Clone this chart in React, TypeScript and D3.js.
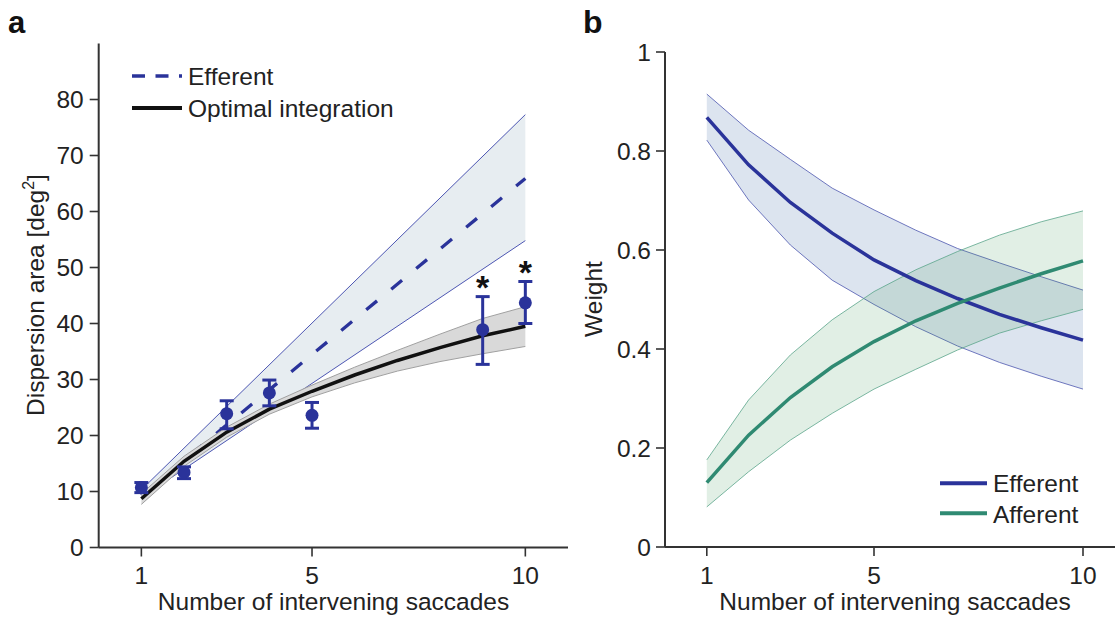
import React from "react";
import * as d3 from "d3";

// ---------- Panel a data ----------
const saccadesA = [1, 2, 3, 4, 5, 6, 7, 8, 9, 10];
const optimalMean = [8.7, 15.4, 20.6, 24.7, 27.9, 30.8, 33.4, 35.7, 37.8, 39.5];
const optimalUpper = [9.6, 16.3, 21.5, 25.6, 29.0, 32.2, 35.2, 38.1, 40.9, 43.0];
const optimalLower = [7.7, 14.5, 19.7, 23.8, 26.9, 29.4, 31.5, 33.2, 34.6, 35.9];

const efferentX = [1, 10];
const efferentMean = [9.3, 65.9];
const efferentUpper = [10.3, 77.3];
const efferentLower = [8.9, 54.8];

const obsX = [1, 2, 3, 4, 5, 9, 10];
const obsMean = [10.7, 13.4, 23.9, 27.6, 23.6, 38.9, 43.7];
const obsLow = [9.8, 12.3, 21.2, 25.3, 21.3, 32.7, 40.0];
const obsHigh = [11.6, 14.4, 26.2, 29.9, 25.9, 44.8, 47.5];
const obsStar = [false, false, false, false, false, true, true];

const yTicksA = [0, 10, 20, 30, 40, 50, 60, 70, 80];
const xTicks = [1, 5, 10];

// ---------- Panel b data ----------
const saccadesB = [1, 2, 3, 4, 5, 6, 7, 8, 9, 10];
const effWeight = [0.868, 0.772, 0.696, 0.634, 0.58, 0.538, 0.502, 0.47, 0.443, 0.418];
const effWeightUp = [0.915, 0.842, 0.783, 0.725, 0.681, 0.64, 0.603, 0.574, 0.546, 0.519];
const effWeightLo = [0.822, 0.701, 0.61, 0.539, 0.49, 0.445, 0.406, 0.373, 0.345, 0.319];
const affWeight = [0.13, 0.226, 0.302, 0.364, 0.415, 0.457, 0.492, 0.523, 0.552, 0.578];
const affWeightUp = [0.176, 0.297, 0.388, 0.459, 0.516, 0.56, 0.597, 0.63, 0.657, 0.679];
const affWeightLo = [0.081, 0.152, 0.216, 0.27, 0.319, 0.359, 0.398, 0.432, 0.457, 0.48];

const yTicksB = [0, 0.2, 0.4, 0.6, 0.8, 1];
const yTickLabelsB = ["0", "0.2", "0.4", "0.6", "0.8", "1"];

const FONT = "'Liberation Sans', Arial, Helvetica, sans-serif";
const BLUE = "#2a339a";
const GREEN = "#2f8a72";
const AXIS = "#333";
const FS = 24.5;

export default function App() {
  // scales panel a
  const xA = d3.scaleLinear().domain([0, 11]).range([98.7, 568]);
  const yA = d3.scaleLinear().domain([0, 90]).range([547.5, 43.5]);
  // scales panel b
  const xB = d3.scaleLinear().domain([0, 11]).range([665, 1124.8]);
  const yB = d3.scaleLinear().domain([0, 1]).range([547, 52]);

  const lineA = (xs: number[], ys: number[]) =>
    d3.line<number>().x((_, i) => xA(xs[i])).y((d) => yA(d))(ys) || "";
  const areaA = (xs: number[], lo: number[], hi: number[]) =>
    d3
      .area<number>()
      .x((_, i) => xA(xs[i]))
      .y0((_, i) => yA(lo[i]))
      .y1((d) => yA(d))(hi) || "";
  const lineB = (xs: number[], ys: number[]) =>
    d3.line<number>().x((_, i) => xB(xs[i])).y((d) => yB(d))(ys) || "";
  const areaB = (xs: number[], lo: number[], hi: number[]) =>
    d3
      .area<number>()
      .x((_, i) => xB(xs[i]))
      .y0((_, i) => yB(lo[i]))
      .y1((d) => yB(d))(hi) || "";

  const tick = 9;

  return (
    <svg
      width={1115}
      height={617}
      style={{ position: "absolute", left: 0, top: 0, background: "#fff" }}
      fontFamily={FONT}
    >
      <rect width={1115} height={617} fill="#fff" />
      {/* ================= Panel a ================= */}
      <text x={8} y={33} fontSize={31} fontWeight="bold" fill="#111">a</text>

      {/* efferent band */}
      <path d={areaA(efferentX, efferentLower, efferentUpper)} fill="#e7edf1" stroke="none" />
      <path d={lineA(efferentX, efferentUpper)} fill="none" stroke="#3a44aa" strokeWidth={0.9} />
      <path d={lineA(efferentX, efferentLower)} fill="none" stroke="#3a44aa" strokeWidth={0.9} />
      {/* efferent dashed mean */}
      <path
        d={lineA(efferentX, efferentMean)}
        fill="none"
        stroke={BLUE}
        strokeWidth={3.3}
        strokeDasharray="14 18.4"
      />
      {/* optimal band */}
      <path d={areaA(saccadesA, optimalLower, optimalUpper)} fill="#d9d9d9" stroke="none" />
      <path d={lineA(saccadesA, optimalUpper)} fill="none" stroke="#a0a0a0" strokeWidth={1} />
      <path d={lineA(saccadesA, optimalLower)} fill="none" stroke="#a0a0a0" strokeWidth={1} />
      <path d={lineA(saccadesA, optimalMean)} fill="none" stroke="#111" strokeWidth={3.5} />

      {/* observed points */}
      {obsX.map((x, i) => {
        const cx = xA(x);
        return (
          <g key={"o" + i}>
            <line x1={cx} x2={cx} y1={yA(obsLow[i])} y2={yA(obsHigh[i])} stroke={BLUE} strokeWidth={3} />
            <line x1={cx - 7} x2={cx + 7} y1={yA(obsLow[i])} y2={yA(obsLow[i])} stroke={BLUE} strokeWidth={3} />
            <line x1={cx - 7} x2={cx + 7} y1={yA(obsHigh[i])} y2={yA(obsHigh[i])} stroke={BLUE} strokeWidth={3} />
            <circle cx={cx} cy={yA(obsMean[i])} r={6.5} fill={BLUE} />
            {obsStar[i] && (
              <text x={cx} y={yA(obsHigh[i]) + 2} fontSize={34} fontWeight="bold" textAnchor="middle" fill="#111">*</text>
            )}
          </g>
        );
      })}

      {/* axes a */}
      <line x1={xA(0)} x2={xA(0)} y1={yA(90)} y2={yA(0)} stroke={AXIS} strokeWidth={2} />
      <line x1={xA(0)} x2={xA(11)} y1={yA(0)} y2={yA(0)} stroke={AXIS} strokeWidth={2} />
      {yTicksA.map((t) => (
        <g key={"ya" + t}>
          <line x1={xA(0) - tick} x2={xA(0)} y1={yA(t)} y2={yA(t)} stroke={AXIS} strokeWidth={1.6} />
          <text x={xA(0) - tick - 6} y={yA(t)} dy="0.36em" fontSize={FS} textAnchor="end" fill="#222">{t}</text>
        </g>
      ))}
      {xTicks.map((t) => (
        <g key={"xa" + t}>
          <line x1={xA(t)} x2={xA(t)} y1={yA(0)} y2={yA(0) + tick} stroke={AXIS} strokeWidth={1.6} />
          <text x={xA(t)} y={584} fontSize={FS} textAnchor="middle" fill="#222">{t}</text>
        </g>
      ))}
      <text x={333.5} y={610} fontSize={FS} textAnchor="middle" fill="#222">Number of intervening saccades</text>
      <text transform="translate(44,295) rotate(-90)" fontSize={FS} textAnchor="middle" fill="#222">
        Dispersion area [deg<tspan fontSize={16} dy={-10}>2</tspan><tspan dy={10}>]</tspan>
      </text>

      {/* legend a */}
      <line x1={132} x2={182} y1={76} y2={76} stroke={BLUE} strokeWidth={3.3} strokeDasharray="13 10.5" />
      <text x={188} y={85} fontSize={FS} fill="#222">Efferent</text>
      <line x1={132} x2={182} y1={108} y2={108} stroke="#111" strokeWidth={4} />
      <text x={188} y={117} fontSize={FS} fill="#222">Optimal integration</text>

      {/* ================= Panel b ================= */}
      <text x={583} y={33} fontSize={32} fontWeight="bold" fill="#111">b</text>

      <path d={areaB(saccadesB, effWeightLo, effWeightUp)} fill="rgb(62,104,165)" fillOpacity={0.18} />
      <path d={lineB(saccadesB, effWeightUp)} fill="none" stroke="#4b56ae" strokeWidth={0.8} />
      <path d={lineB(saccadesB, effWeightLo)} fill="none" stroke="#4b56ae" strokeWidth={0.8} />
      <path d={areaB(saccadesB, affWeightLo, affWeightUp)} fill="rgb(80,160,100)" fillOpacity={0.17} />
      <path d={lineB(saccadesB, affWeightUp)} fill="none" stroke="#5aa58a" strokeWidth={0.8} />
      <path d={lineB(saccadesB, affWeightLo)} fill="none" stroke="#5aa58a" strokeWidth={0.8} />
      <path d={lineB(saccadesB, effWeight)} fill="none" stroke={BLUE} strokeWidth={3.5} />
      <path d={lineB(saccadesB, affWeight)} fill="none" stroke={GREEN} strokeWidth={3.5} />

      {/* axes b */}
      <line x1={xB(0)} x2={xB(0)} y1={yB(1)} y2={yB(0)} stroke={AXIS} strokeWidth={2} />
      <line x1={xB(0)} x2={xB(11)} y1={yB(0)} y2={yB(0)} stroke={AXIS} strokeWidth={2} />
      {yTicksB.map((t, i) => (
        <g key={"yb" + t}>
          <line x1={xB(0) - tick} x2={xB(0)} y1={yB(t)} y2={yB(t)} stroke={AXIS} strokeWidth={1.6} />
          <text x={xB(0) - tick - 5} y={yB(t)} dy="0.36em" fontSize={FS} textAnchor="end" fill="#222">{yTickLabelsB[i]}</text>
        </g>
      ))}
      {xTicks.map((t) => (
        <g key={"xb" + t}>
          <line x1={xB(t)} x2={xB(t)} y1={yB(0)} y2={yB(0) + tick} stroke={AXIS} strokeWidth={1.6} />
          <text x={xB(t)} y={584} fontSize={FS} textAnchor="middle" fill="#222">{t}</text>
        </g>
      ))}
      <text x={895} y={610} fontSize={FS} textAnchor="middle" fill="#222">Number of intervening saccades</text>
      <text transform="translate(602,299) rotate(-90)" fontSize={FS} textAnchor="middle" fill="#222">Weight</text>

      {/* legend b */}
      <line x1={940} x2={987} y1={483.3} y2={483.3} stroke={BLUE} strokeWidth={4} />
      <text x={993} y={492} fontSize={FS} fill="#222">Efferent</text>
      <line x1={940} x2={987} y1={513.3} y2={513.3} stroke={GREEN} strokeWidth={4} />
      <text x={993} y={522.5} fontSize={FS} fill="#222">Afferent</text>
    </svg>
  );
}
